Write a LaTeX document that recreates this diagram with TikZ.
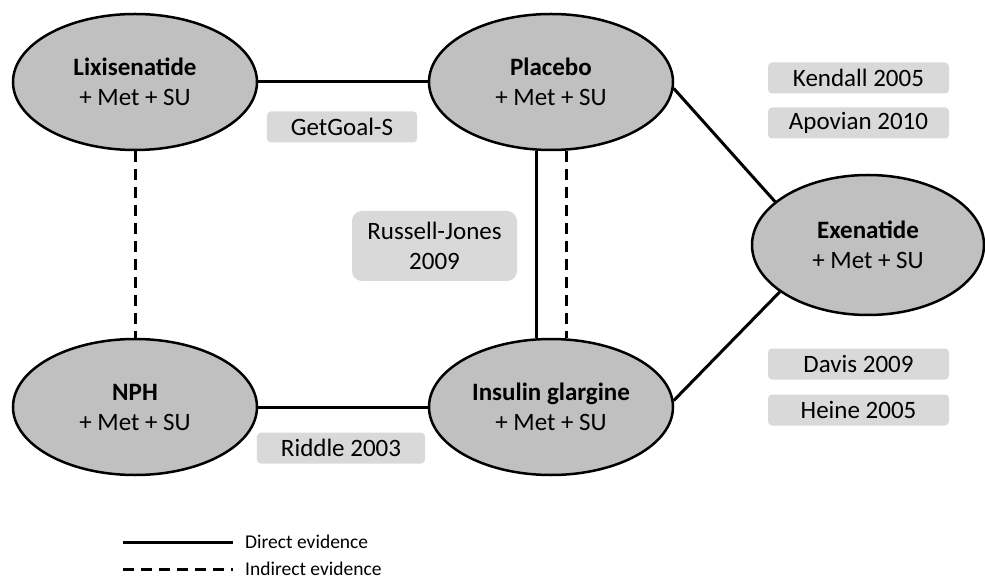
\documentclass[tikz,border=0pt]{standalone}
\usepackage{fontspec}
\setmainfont{Carlito}
\usetikzlibrary{shapes.geometric}
\definecolor{armfill}{RGB}{192,192,192}
\definecolor{studyfill}{RGB}{217,217,217}
\tikzset{
  arm/.style={ellipse, draw=black, line width=2.5pt, fill=armfill, minimum width=244pt, minimum height=136pt, inner sep=0pt, align=center, font=\fontsize{25}{30}\selectfont},
  study/.style={fill=studyfill, rounded corners=4pt, minimum height=31pt, inner xsep=24pt, inner ysep=0pt, align=center, font=\fontsize{25}{30}\selectfont},
  direct/.style={line width=3pt},
  indirect/.style={line width=3pt, dash pattern=on 11pt off 7pt},
  legendtext/.style={anchor=west, inner xsep=12pt, font=\fontsize{19.5}{23}\selectfont}
}

\begin{document}
\begin{tikzpicture}[x=1pt,y=1pt]
			%%%%% START %%%%%
			\useasboundingbox (0,0) rectangle (985,579);
			
			\node[arm] (lixi) at (135,497) {\textbf{Lixisenatide}\\+ Met + SU};
			\node[arm] (plac) at (551,497) {\textbf{Placebo}\\+ Met + SU};
			\node[arm] (nph) at (135,172) {\textbf{NPH}\\+ Met + SU};
			\node[arm] (insu) at (551,172) {\textbf{Insulin glargine}\\+ Met + SU};
			\node[arm, minimum width=232pt, minimum height=140pt] (exen) at (868,334) {\textbf{Exenatide}\\+ Met + SU};
			
			\draw[direct] (lixi.east) -- (plac.west);
			\draw[indirect] (lixi.south) -- (nph.north);
			\draw[direct] (nph.east) -- (insu.west);
			\draw[direct] ([xshift=-15pt]plac.south) -- ([xshift=-15pt]insu.north);
			\draw[indirect] ([xshift=15pt]plac.south) -- ([xshift=15pt]insu.north);
			\draw[direct] (plac.-3) -- (exen.155);
			\draw[direct] (insu.3) -- (exen.208);
			
			\node[study] (getgoal) at (342,452) {GetGoal-S};
			\node[study] (riddle) at (341,131) {Riddle 2003};
			\node[study, rounded corners=10pt, minimum width=165pt, minimum height=70pt, inner xsep=0pt] (russell) at (434.5,333) {Russell-Jones\\2009};
			
			\node[study, minimum width=181pt, inner xsep=0pt] (kendall) at (858.5,501) {Kendall 2005};
			\node[study, minimum width=181pt, inner xsep=0pt] (apovian) at (858.5,456) {Apovian 2010};
			\node[study, minimum width=181pt, inner xsep=0pt] (davis) at (858.5,215) {Davis 2009};
			\node[study, minimum width=181pt, inner xsep=0pt] (heine) at (858.5,169) {Heine 2005};
			
			% legend
			\coordinate (dstart) at (123,37);
			\node[legendtext] (dlab) at (233,37) {Direct evidence};
			\draw[direct] (dstart) -- (dlab.west);
			\coordinate (istart) at (123,10);
			\node[legendtext] (ilab) at (233,10) {Indirect evidence};
			\draw[indirect] (istart) -- (ilab.west);
			
			%%%%% END %%%%%
		\end{tikzpicture}
\end{document}
